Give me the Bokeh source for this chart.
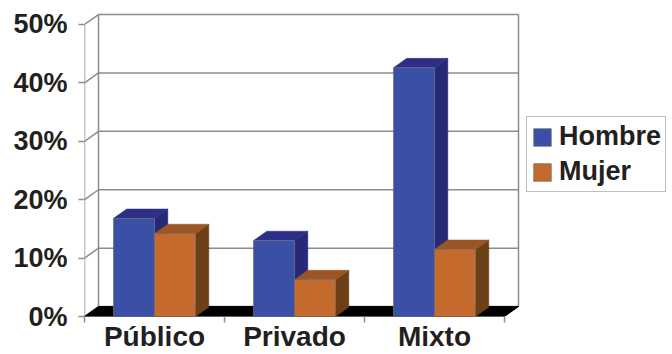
from bokeh.plotting import figure
from bokeh.models import (Range1d, FixedTicker, PrintfTickFormatter, Legend, LegendItem)
from bokeh.embed import file_html
from bokeh.resources import INLINE

# ---- data ----
categories = ["Público", "Privado", "Mixto"]
hombre = [16.8, 13.0, 42.6]
mujer = [14.2, 6.3, 11.5]
y_ticks = [0, 10, 20, 30, 40, 50]
series_names = ["Hombre", "Mujer"]

# ---- style / geometry (not data) ----
FONT = "Liberation Sans"
TXT = "#231f20"
GRID = "#8c8c8c"
DX, DY = 0.1, 1.7          # wall depth offset (data units)
BDX, BDY = 0.095, 1.6      # bar depth offset
BW = 0.293                 # bar width
GAP0 = 0.207               # left offset of group inside a category
colors = {
    "Hombre": ("#3a50a6", "#2c2f85", "#262978"),
    "Mujer": ("#c36a2c", "#9c5524", "#6b4017"),
}

p = figure(width=672, height=354, output_backend="svg", toolbar_location=None,
           x_range=Range1d(0, 4.2), y_range=Range1d(0, 54.1),
           min_border_left=84, min_border_right=0, min_border_top=0,
           min_border_bottom=38)
p.outline_line_color = None
p.xgrid.visible = False
p.ygrid.visible = False
p.background_fill_color = "white"

n = len(categories)
top_v = max(y_ticks)

# back wall grid lines
gx0, gx1, gy = [], [], []
for v in y_ticks:
    gx0.append(DX); gx1.append(n + DX); gy.append(v + DY)
p.segment(x0=gx0, y0=gy, x1=gx1, y1=gy, line_color=GRID, line_width=1.5)
# side wall diagonals
p.segment(x0=[0] * len(y_ticks), y0=y_ticks, x1=[DX] * len(y_ticks),
          y1=[v + DY for v in y_ticks], line_color=GRID, line_width=1.5)
# wall edges
p.segment(x0=[0, DX, n + DX], y0=[0, DY, DY], x1=[0, DX, n + DX],
          y1=[top_v, top_v + DY, top_v + DY], line_color=GRID, line_width=1.5)

# floor
p.patch(x=[0, n, n + DX, DX], y=[0, 0, DY, DY], fill_color="black", line_color="black")

front_renderers = {}
for si, name in enumerate(series_names):
    vals = hombre if name == "Hombre" else mujer
    cf, ct, cs = colors[name]
    x0s = [i + GAP0 + si * BW for i in range(n)]
    x1s = [x + BW for x in x0s]
    # side faces
    sx = [[x1, x1 + BDX, x1 + BDX, x1] for x1 in x1s]
    sy = [[0, BDY, v + BDY, v] for v in vals]
    p.patches(xs=sx, ys=sy, fill_color=cs, line_color=cs, line_width=0.5)
    # top faces
    tx = [[x0, x0 + BDX, x1 + BDX, x1] for x0, x1 in zip(x0s, x1s)]
    ty = [[v, v + BDY, v + BDY, v] for v in vals]
    p.patches(xs=tx, ys=ty, fill_color=ct, line_color=ct, line_width=0.5)
    # front faces
    r = p.quad(left=x0s, right=x1s, bottom=[0] * n, top=vals,
               fill_color=cf, line_color="#707070", line_width=0.7)
    front_renderers[name] = r

# axes
yax = p.yaxis[0]
yax.ticker = FixedTicker(ticks=y_ticks)
yax.formatter = PrintfTickFormatter(format="%d%%")
yax.axis_line_color = None
yax.major_tick_line_color = GRID
yax.major_tick_line_width = 1.5
yax.major_tick_out = 6
yax.major_tick_in = 0
yax.minor_tick_line_color = None
yax.major_label_text_font = FONT
yax.major_label_text_font_style = "bold"
yax.major_label_text_font_size = "27px"
yax.major_label_text_color = TXT
yax.major_label_standoff = 11

xax = p.xaxis[0]
xax.ticker = FixedTicker(ticks=[i + 0.5 for i in range(n)],
                         minor_ticks=list(range(n + 1)))
xax.major_label_overrides = {i + 0.5: c for i, c in enumerate(categories)}
xax.axis_line_color = None
xax.major_tick_line_color = None
xax.major_tick_out = 6
xax.major_tick_in = 0
xax.minor_tick_line_color = GRID
xax.minor_tick_line_width = 1.5
xax.minor_tick_out = 6
xax.minor_tick_in = 0
xax.major_label_text_font = FONT
xax.major_label_text_font_style = "bold"
xax.major_label_text_font_size = "28px"
xax.major_label_text_color = TXT
xax.major_label_standoff = -2

legend = Legend(items=[LegendItem(label=nm, renderers=[front_renderers[nm]]) for nm in series_names],
                location=(442, 124))
legend.glyph_width = 22
legend.glyph_height = 22
legend.label_text_font = FONT
legend.label_text_font_style = "bold"
legend.label_text_font_size = "27px"
legend.label_text_line_height = 0.9
legend.label_text_color = TXT
legend.label_standoff = 6
legend.label_height = 22
legend.spacing = 4
legend.padding = 4
legend.margin = 0
legend.border_line_color = "#808080"
legend.border_line_width = 1
legend.background_fill_color = "white"
p.add_layout(legend)

open("out.html", "w").write(file_html(p, INLINE))
